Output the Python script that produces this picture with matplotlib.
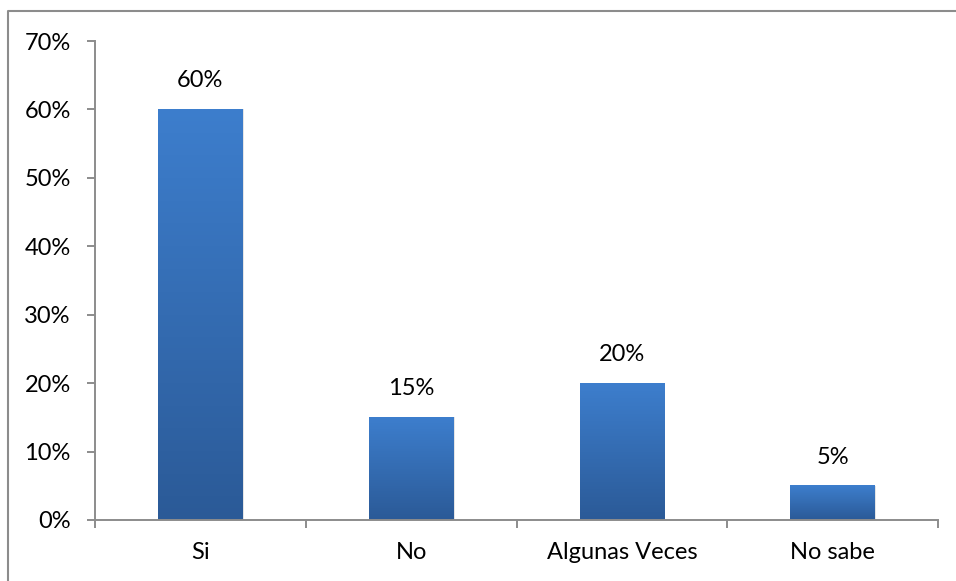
import matplotlib
matplotlib.use("Agg")
import matplotlib.pyplot as plt
import numpy as np
from matplotlib.patches import Rectangle
from matplotlib.lines import Line2D
from matplotlib.colors import LinearSegmentedColormap
from matplotlib.ticker import FixedLocator, PercentFormatter

categories = ["Si", "No", "Algunas Veces", "No sabe"]
values = [60, 15, 20, 5]
value_labels = ["60%", "15%", "20%", "5%"]
yticks = [0, 10, 20, 30, 40, 50, 60, 70]

plt.rcParams['font.family'] = ['Lato', 'DejaVu Sans']

fig = plt.figure(figsize=(9.56, 5.81), dpi=100)
ax = fig.add_axes([95/956, 1-520/581, (938-95)/956, (520-41)/581])

x = np.arange(len(categories))
bars = ax.bar(x, values, width=0.40, color='none', edgecolor='none', zorder=2)

cmap = LinearSegmentedColormap.from_list('g', ['#2b5a97', '#3d7ecd'])
grad = np.linspace(0, 1, 256).reshape(-1, 1)
for b in bars:
    bx, by = b.get_x(), b.get_y()
    w, h = b.get_width(), b.get_height()
    sh = Rectangle((bx + 0.006, by), w, h, facecolor='#000000', alpha=0.10,
                   edgecolor='none', zorder=1.5)
    ax.add_patch(sh)
    im = ax.imshow(grad, cmap=cmap, origin='lower', aspect='auto',
                   extent=(bx, bx + w, by, by + h), zorder=2.5)

for xi, v, lab in zip(x, values, value_labels):
    ax.annotate(lab, (xi, v), xytext=(0, 13), textcoords='offset points',
                ha='center', va='bottom', fontsize=17, color='black')

ax.set_xlim(-0.5, len(categories) - 0.5)
ax.set_ylim(0, 70)
ax.set_yticks(yticks)
ax.yaxis.set_major_formatter(PercentFormatter(decimals=0))
ax.set_xticks(x)
ax.set_xticklabels(categories)
ax.xaxis.set_minor_locator(FixedLocator(np.arange(-0.5, len(categories), 1.0)))

for s in ['top', 'right']:
    ax.spines[s].set_visible(False)
for s in ['left', 'bottom']:
    ax.spines[s].set_color('#8c8c8c')
    ax.spines[s].set_linewidth(1.4)

ax.tick_params(axis='y', length=5.5, width=1.4, color='#8c8c8c', pad=12,
               labelsize=17, labelcolor='black')
ax.tick_params(axis='x', which='major', length=0, pad=16, labelsize=17,
               labelcolor='black')
ax.tick_params(axis='x', which='minor', length=5.5, width=1.4, color='#8c8c8c')

fig.lines.append(Line2D([7.5/956, 7.5/956, 1], [0, 1 - 11/581, 1 - 11/581],
                        transform=fig.transFigure, color='#8c8c8c',
                        linewidth=1.5))

fig.savefig('out.png', dpi=100)
